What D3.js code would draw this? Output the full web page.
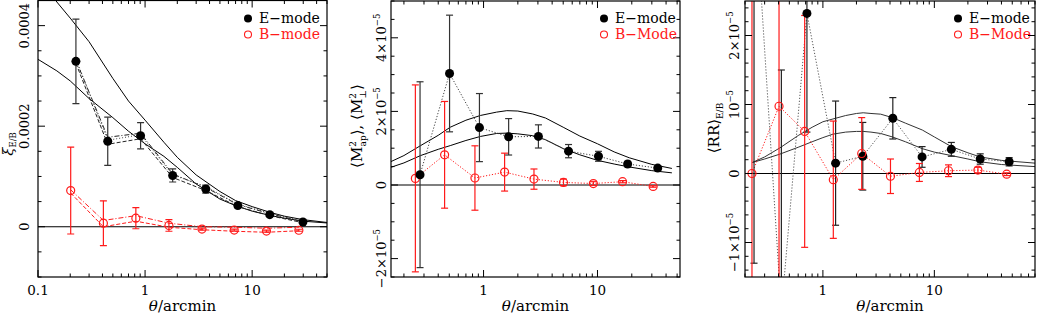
<!DOCTYPE html>
<html><head><meta charset="utf-8">
<script src="https://cdn.jsdelivr.net/npm/d3@7"></script>
<style>body{margin:0;background:#fff} svg{display:block} text{font-family:"DejaVu Serif","Liberation Serif",serif}</style>
</head><body><svg id="c" width="1037" height="316"></svg>
<script>
// ---------- Panel 1: xi_E/B ----------
const xiEtheta = [0.226, 0.448, 0.908, 1.81, 3.69, 7.35, 14.6, 29.8];
const xiE      = [3.29e-4, 1.70e-4, 1.81e-4, 1.02e-4, 0.75e-4, 0.42e-4, 0.24e-4, 0.093e-4];
const xiEerr   = [0.84e-4, 0.48e-4, 0.26e-4, 0.13e-4, 0.08e-4, 0.04e-4, 0.03e-4, 0.02e-4];
const xiBtheta = [0.202, 0.408, 0.82, 1.67, 3.4, 6.8, 13.6, 27.3];
const xiB      = [0.72e-4, 0.07e-4, 0.17e-4, 0.025e-4, -0.046e-4, -0.066e-4, -0.086e-4, -0.07e-4];
const xiBerr   = [0.865e-4, 0.445e-4, 0.21e-4, 0.115e-4, 0.02e-4, 0.02e-4, 0.02e-4, 0.02e-4];
// estimator variants (dashed / dash-dot / dotted)
const xiEvarA = [3.25e-4, 1.64e-4, 1.75e-4, 0.98e-4, 0.72e-4, 0.40e-4, 0.22e-4, 0.08e-4];
const xiEvarB = [3.31e-4, 1.78e-4, 1.86e-4, 1.05e-4, 0.78e-4, 0.44e-4, 0.26e-4, 0.10e-4];
const xiEvarC = [3.34e-4, 1.72e-4, 1.83e-4, 1.03e-4, 0.80e-4, 0.45e-4, 0.27e-4, 0.11e-4];
const xiBvarA = [0.735e-4, 0.125e-4, 0.22e-4, 0.07e-4, 0.0, -0.01e-4, -0.03e-4, -0.01e-4];
const xiBvarB = [0.67e-4, 0.0, 0.11e-4, -0.01e-4, -0.06e-4, -0.09e-4, -0.11e-4, -0.08e-4];
// model curves
const xiModelTheta = [0.1, 0.15, 0.2, 0.3, 0.5, 0.7, 1, 1.5, 2, 3, 5, 7, 10, 15, 20, 30, 50];
const xiModelHigh  = [5.0e-4, 4.47e-4, 4.15e-4, 3.68e-4, 2.95e-4, 2.5e-4, 2.12e-4, 1.68e-4, 1.38e-4, 1.03e-4, 0.70e-4, 0.52e-4, 0.40e-4, 0.28e-4, 0.21e-4, 0.14e-4, 0.085e-4];
const xiModelLow   = [3.33e-4, 3.10e-4, 2.90e-4, 2.55e-4, 2.17e-4, 1.90e-4, 1.65e-4, 1.40e-4, 1.18e-4, 0.85e-4, 0.55e-4, 0.42e-4, 0.31e-4, 0.22e-4, 0.17e-4, 0.11e-4, 0.075e-4];
const xiYTicks  = [0, 0.0002, 0.0004];
const xiYLabels = ["0", "0.0002", "0.0004"];
const xiXTicks  = [0.1, 1, 10];
const xiXLabels = ["0.1", "1", "10"];

// ---------- Panel 2: aperture mass ----------
const mapEtheta = [0.277, 0.503, 0.92, 1.66, 3.03, 5.57, 10.2, 18.4, 33.8];
const mapE      = [0.28e-5, 3.03e-5, 1.56e-5, 1.31e-5, 1.32e-5, 0.92e-5, 0.78e-5, 0.57e-5, 0.46e-5];
const mapEerr   = [2.525e-5, 1.585e-5, 0.925e-5, 0.495e-5, 0.315e-5, 0.18e-5, 0.135e-5, 0.07e-5, 0.06e-5];
const mapBtheta = [0.252, 0.455, 0.84, 1.53, 2.77, 5.03, 9.2, 16.6, 30.8];
const mapB      = [0.18e-5, 0.82e-5, 0.19e-5, 0.35e-5, 0.16e-5, 0.07e-5, 0.04e-5, 0.09e-5, -0.04e-5];
const mapBerr   = [2.54e-5, 1.45e-5, 0.875e-5, 0.515e-5, 0.275e-5, 0.09e-5, 0.05e-5, 0.03e-5, 0.02e-5];
const mapModelTheta = [0.15, 0.2, 0.28, 0.4, 0.51, 0.7, 0.94, 1.3, 1.6, 2.0, 2.7, 3.5, 5, 7, 10, 14, 19, 30, 45];
const mapModelHigh  = [0.62e-5, 0.80e-5, 1.07e-5, 1.35e-5, 1.57e-5, 1.76e-5, 1.89e-5, 1.98e-5, 2.02e-5, 2.01e-5, 1.93e-5, 1.82e-5, 1.57e-5, 1.33e-5, 1.12e-5, 0.90e-5, 0.74e-5, 0.56e-5, 0.45e-5];
const mapModelLow   = [0.47e-5, 0.60e-5, 0.80e-5, 0.97e-5, 1.07e-5, 1.21e-5, 1.32e-5, 1.40e-5, 1.41e-5, 1.39e-5, 1.34e-5, 1.23e-5, 0.99e-5, 0.82e-5, 0.67e-5, 0.57e-5, 0.49e-5, 0.39e-5, 0.33e-5];
const mapYTicks  = [-2e-5, 0, 2e-5, 4e-5];
const mapYLabels = ["\u22122\u00d710|\u22125", "0", "2\u00d710|\u22125", "4\u00d710|\u22125"];
const mapXTicks  = [1, 10];
const mapXLabels = ["1", "10"];

// ---------- Panel 3: <RR> ----------
const rrEtheta = [0.241, 0.424, 0.719, 1.30, 2.28, 4.24, 7.76, 14.2, 25.8, 46.9];
const rrE      = [4.2e-5, -2.0e-5, 2.32e-5, 0.15e-5, 0.25e-5, 0.80e-5, 0.24e-5, 0.35e-5, 0.21e-5, 0.17e-5];
const rrEerr   = [5.5e-5, 3.5e-5, 1.72e-5, 0.90e-5, 0.49e-5, 0.30e-5, 0.15e-5, 0.10e-5, 0.075e-5, 0.06e-5];
const rrBtheta = [0.231, 0.404, 0.686, 1.24, 2.23, 4.04, 7.34, 13.4, 24.6, 44.6];
const rrB      = [0.0, 0.975e-5, 0.61e-5, -0.09e-5, 0.29e-5, -0.04e-5, 0.015e-5, 0.04e-5, 0.05e-5, -0.01e-5];
const rrBerr   = [4.0e-5, 4.0e-5, 1.68e-5, 0.85e-5, 0.52e-5, 0.25e-5, 0.13e-5, 0.085e-5, 0.04e-5, 0.02e-5];
const rrModelTheta = [0.233, 0.3, 0.41, 0.6, 0.8, 1.0, 1.23, 1.6, 2.0, 2.3, 2.7, 3.3, 4.2, 5.5, 7.8, 10, 14.2, 20, 25.8, 40, 80];
const rrModelHigh  = [0.16e-5, 0.24e-5, 0.37e-5, 0.55e-5, 0.67e-5, 0.75e-5, 0.79e-5, 0.84e-5, 0.87e-5, 0.88e-5, 0.87e-5, 0.86e-5, 0.81e-5, 0.73e-5, 0.63e-5, 0.53e-5, 0.39e-5, 0.30e-5, 0.24e-5, 0.19e-5, 0.15e-5];
const rrModelLow   = [0.16e-5, 0.21e-5, 0.28e-5, 0.38e-5, 0.46e-5, 0.52e-5, 0.57e-5, 0.60e-5, 0.61e-5, 0.61e-5, 0.60e-5, 0.58e-5, 0.53e-5, 0.46e-5, 0.36e-5, 0.31e-5, 0.26e-5, 0.21e-5, 0.17e-5, 0.13e-5, 0.10e-5];
const rrYTicks  = [-1e-5, 0, 1e-5, 2e-5];
const rrYLabels = ["\u22121\u00d710|\u22125", "0", "10|\u22125", "2\u00d710|\u22125"];
const rrXTicks  = [1, 10];
const rrXLabels = ["1", "10"];

const RED = "#ff1a1a";
const svg = d3.select("#c");

function drawPanel(p) {
  const x = d3.scaleLog().domain(p.xDomain).range([p.left, p.right]);
  const y = d3.scaleLinear().domain(p.yDomain).range([p.bottom, p.top]);
  const cid = "clip" + p.id;
  svg.append("clipPath").attr("id", cid).append("rect")
    .attr("x", p.left).attr("y", p.top).attr("width", p.right - p.left).attr("height", p.bottom - p.top);
  const g = svg.append("g").attr("clip-path", `url(#${cid})`);
  g.append("line").attr("x1", p.left).attr("x2", p.right).attr("y1", y(0)).attr("y2", y(0))
    .attr("stroke", "#000").attr("stroke-width", 1.1);
  const line = d3.line().x(d => x(d[0])).y(d => y(d[1]));
  p.curves.forEach(c => {
    g.append("path").attr("d", line(d3.zip(c.x, c.y))).attr("fill", "none")
      .attr("stroke", c.color).attr("stroke-width", c.width || 1)
      .attr("stroke-dasharray", c.dash || null);
  });
  p.series.forEach(s => {
    const pts = d3.zip(s.x, s.y, s.err);
    const eb = g.append("g").attr("stroke", s.barColor).attr("stroke-width", 1.2);
    pts.forEach(([tx, v, e]) => {
      const cx = x(tx), y1 = y(v + e), y2 = y(v - e);
      eb.append("line").attr("x1", cx).attr("x2", cx).attr("y1", y1).attr("y2", y2);
      eb.append("line").attr("x1", cx - 3.5).attr("x2", cx + 3.5).attr("y1", y1).attr("y2", y1);
      eb.append("line").attr("x1", cx - 3.5).attr("x2", cx + 3.5).attr("y1", y2).attr("y2", y2);
    });
  });
  p.series.forEach(s => {
    g.selectAll(null).data(d3.zip(s.x, s.y)).join("circle")
      .attr("cx", d => x(d[0])).attr("cy", d => y(d[1]))
      .attr("r", s.filled ? 4.5 : 4)
      .attr("fill", s.filled ? s.color : "none")
      .attr("stroke", s.color).attr("stroke-width", s.filled ? 0 : 1.2);
  });
  // frame
  svg.append("rect").attr("x", p.left).attr("y", p.top).attr("width", p.right - p.left)
    .attr("height", p.bottom - p.top).attr("fill", "none").attr("stroke", "#000").attr("stroke-width", 1.2);
  const ax = svg.append("g").attr("stroke", "#000").attr("stroke-width", 1);
  // x ticks (log)
  x.ticks().filter(v => v >= p.xDomain[0] && v <= p.xDomain[1]).forEach(v => {
    const lv = Math.log10(v), major = Math.abs(lv - Math.round(lv)) < 1e-9;
    const L = major ? 7 : 3.5, px = x(v);
    ax.append("line").attr("x1", px).attr("x2", px).attr("y1", p.bottom).attr("y2", p.bottom - L);
    ax.append("line").attr("x1", px).attr("x2", px).attr("y1", p.top).attr("y2", p.top + L);
  });
  // y ticks
  const st = p.yMinor;
  for (let i = Math.ceil(p.yDomain[0] / st - 1e-6); i * st <= p.yDomain[1] + 1e-12; i++) {
    const major = i % p.yMajorEvery === 0, L = major ? 7 : 3.5, py = y(i * st);
    ax.append("line").attr("x1", p.left).attr("x2", p.left + L).attr("y1", py).attr("y2", py);
    ax.append("line").attr("x1", p.right).attr("x2", p.right - L).attr("y1", py).attr("y2", py);
  }
  // x tick labels
  p.xTicks.forEach((v, i) => {
    svg.append("text").attr("x", x(v)).attr("y", 295).attr("text-anchor", "middle")
      .attr("font-size", 13.5).text(p.xLabels[i]);
  });
  // y tick labels (rotated)
  p.yTicks.forEach((v, i) => {
    const parts = p.yLabels[i].split("|");
    const t = svg.append("text").attr("transform", `translate(${p.left - p.yLabOff},${y(v)}) rotate(-90)`)
      .attr("text-anchor", "middle").attr("font-size", 13);
    t.append("tspan").text(parts[0]);
    if (parts[1]) t.append("tspan").attr("font-size", 8.5).attr("dy", -5.5).text(parts[1]);
  });
  // x title
  const xt = svg.append("text").attr("x", (p.left + p.right) / 2).attr("y", 311)
    .attr("text-anchor", "middle").attr("font-size", 15);
  xt.append("tspan").attr("font-style", "italic").text("\u03b8");
  xt.append("tspan").text("/arcmin");
  // y title
  const yt = svg.append("text").attr("transform", `translate(${p.yTitle[0]},${p.yTitle[1]}) rotate(-90)`)
    .attr("text-anchor", "middle").attr("font-size", p.yTitleSize || 15);
  p.yTitleParts.forEach(tp => {
    const s = yt.append("tspan").text(tp.t);
    if (tp.fs) s.attr("font-size", tp.fs);
    if (tp.dy) s.attr("dy", tp.dy);
    if (tp.dx) s.attr("dx", tp.dx);
    if (tp.it) s.attr("font-style", "italic");
  });
  // legend
  const lx = p.right - p.legOff;
  svg.append("circle").attr("cx", lx).attr("cy", 18.5).attr("r", 4).attr("fill", "#000");
  svg.append("text").attr("x", lx + 11).attr("y", 22.5).attr("font-size", 14).attr("fill", "#000").text("E\u2212mode");
  svg.append("circle").attr("cx", lx).attr("cy", 34.5).attr("r", 3.5).attr("fill", "none").attr("stroke", RED).attr("stroke-width", 1.1);
  svg.append("text").attr("x", lx + 11).attr("y", 39).attr("font-size", 14).attr("fill", RED).text(p.bLegend);
}

drawPanel({
  id: 1, left: 38, right: 327, top: 0.5, bottom: 277,
  xDomain: [0.1, 50], yDomain: [-0.0001, 0.00045], yMinor: 0.00005, yMajorEvery: 4,
  xTicks: xiXTicks, xLabels: xiXLabels, yTicks: xiYTicks, yLabels: xiYLabels, yLabOff: 9,
  curves: [
    {x: xiModelTheta, y: xiModelHigh, color: "#000"},
    {x: xiModelTheta, y: xiModelLow, color: "#000"},
    {x: xiEtheta, y: xiEvarA, color: "#222", dash: "4,2"},
    {x: xiEtheta, y: xiEvarB, color: "#222", dash: "5,2,1,2"},
    {x: xiEtheta, y: xiEvarC, color: "#444", dash: "1,2"},
    {x: xiBtheta, y: xiBvarA, color: RED, dash: "5,2,1,2"},
    {x: xiBtheta, y: xiBvarB, color: RED, dash: "4,2"}
  ],
  series: [
    {x: xiBtheta, y: xiB, err: xiBerr, color: RED, barColor: RED, filled: false},
    {x: xiEtheta, y: xiE, err: xiEerr, color: "#000", barColor: "#333", filled: true}
  ],
  yTitle: [13, 144],
  yTitleParts: [{t: "\u03be", it: true}, {t: "E/B", fs: 8.5, dy: 3}],
  legOff: 79, bLegend: "B\u2212mode"
});

drawPanel({
  id: 2, left: 391, right: 680, top: 1, bottom: 277,
  xDomain: [0.154, 53], yDomain: [-2.5e-5, 5e-5], yMinor: 0.5e-5, yMajorEvery: 4,
  xTicks: mapXTicks, xLabels: mapXLabels, yTicks: mapYTicks, yLabels: mapYLabels, yLabOff: 5.5,
  curves: [
    {x: mapModelTheta, y: mapModelHigh, color: "#000"},
    {x: mapModelTheta, y: mapModelLow, color: "#000"},
    {x: mapEtheta, y: mapE, color: "#444", dash: "1.2,1.8"},
    {x: mapBtheta, y: mapB, color: RED, dash: "1.2,1.8"}
  ],
  series: [
    {x: mapBtheta, y: mapB, err: mapBerr, color: RED, barColor: RED, filled: false},
    {x: mapEtheta, y: mapE, err: mapEerr, color: "#000", barColor: "#333", filled: true}
  ],
  yTitle: [362, 126],
  yTitleParts: [{t: "\u27e8M"}, {t: "2", fs: 9, dy: -6}, {t: "ap", fs: 9, dx: -5.5, dy: 10}, {t: "\u27e9, \u27e8M", dy: -4},
                {t: "2", fs: 9, dy: -6}, {t: "\u22a5", fs: 9, dx: -5.5, dy: 10}, {t: "\u27e9", dy: -4}],
  legOff: 76, bLegend: "B\u2212Mode"
});

drawPanel({
  id: 3, left: 745, right: 1035, top: 1, bottom: 277,
  xDomain: [0.2, 80], yDomain: [-1.5e-5, 2.5e-5], yMinor: 0.2e-5, yMajorEvery: 5,
  xTicks: rrXTicks, xLabels: rrXLabels, yTicks: rrYTicks, yLabels: rrYLabels, yLabOff: 6.5,
  curves: [
    {x: rrModelTheta, y: rrModelHigh, color: "#333"},
    {x: rrModelTheta, y: rrModelLow, color: "#333"},
    {x: rrEtheta, y: rrE, color: "#555", dash: "1.2,1.8"},
    {x: rrBtheta, y: rrB, color: RED, dash: "1.2,1.8"}
  ],
  series: [
    {x: rrEtheta, y: rrE, err: rrEerr, color: "#000", barColor: "#222", filled: true},
    {x: rrBtheta, y: rrB, err: rrBerr, color: RED, barColor: RED, filled: false}
  ],
  yTitle: [719, 128],
  yTitleParts: [{t: "\u27e8RR\u27e9"}, {t: "E/B", fs: 9, dy: 3.5}],
  legOff: 77, bLegend: "B\u2212Mode"
});
</script></body></html>
